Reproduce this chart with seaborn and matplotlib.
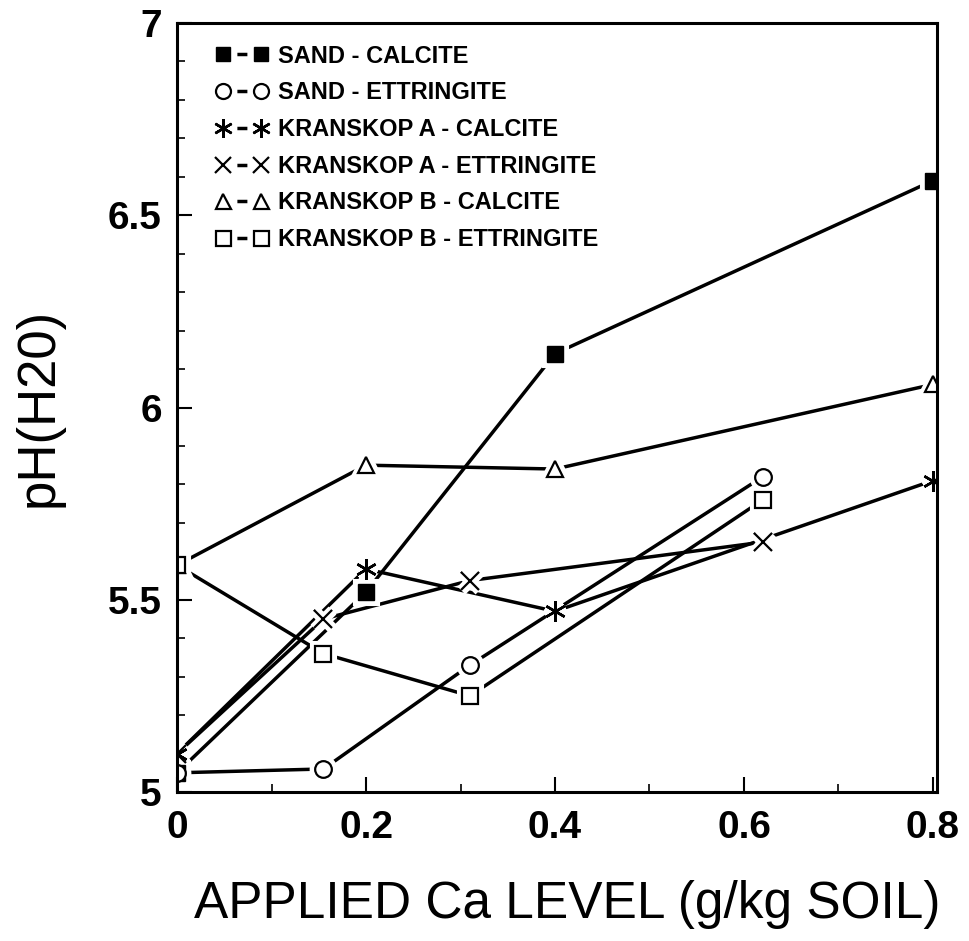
import matplotlib
matplotlib.use("Agg")
import matplotlib.pyplot as plt
import seaborn as sns
import pandas as pd
from matplotlib.ticker import MultipleLocator

sns.set_theme(style="white")
plt.rcParams['font.family'] = ['Liberation Sans', 'DejaVu Sans']
plt.rcParams['text.color'] = 'black'
plt.rcParams['axes.labelcolor'] = 'black'
plt.rcParams['xtick.color'] = 'black'
plt.rcParams['ytick.color'] = 'black'

# ---- data ----
sand_cal_x = [0, 0.2, 0.4, 0.8]
sand_cal_y = [5.05, 5.52, 6.14, 6.59]

sand_ett_x = [0, 0.155, 0.31, 0.62]
sand_ett_y = [5.05, 5.06, 5.33, 5.82]

ka_cal_x = [0, 0.2, 0.4, 0.8]
ka_cal_y = [5.10, 5.58, 5.47, 5.81]

ka_ett_x = [0, 0.155, 0.31, 0.62]
ka_ett_y = [5.10, 5.45, 5.55, 5.65]

kb_cal_x = [0, 0.2, 0.4, 0.8]
kb_cal_y = [5.59, 5.85, 5.84, 6.06]

kb_ett_x = [0, 0.155, 0.31, 0.62]
kb_ett_y = [5.59, 5.36, 5.25, 5.76]

labels = ["SAND - CALCITE", "SAND - ETTRINGITE", "KRANSKOP A - CALCITE",
          "KRANSKOP A - ETTRINGITE", "KRANSKOP B - CALCITE", "KRANSKOP B - ETTRINGITE"]
x_ticks = [0, 0.2, 0.4, 0.6, 0.8]
x_ticklabels = ["0", "0.2", "0.4", "0.6", "0.8"]
y_ticks = [5, 5.5, 6, 6.5, 7]
y_ticklabels = ["5", "5.5", "6", "6.5", "7"]

series = [
    (sand_cal_x, sand_cal_y, dict(marker='s', markersize=11, markerfacecolor='black', markeredgecolor='black', markeredgewidth=1.0)),
    (sand_ett_x, sand_ett_y, dict(marker='o', markersize=12, markerfacecolor='white', markeredgecolor='black', markeredgewidth=1.6)),
    (ka_cal_x, ka_cal_y, dict(marker=(6, 2, 0), markersize=15, markeredgecolor='black', markeredgewidth=1.8)),
    (ka_ett_x, ka_ett_y, dict(marker='x', markersize=13, markeredgecolor='black', markeredgewidth=1.6)),
    (kb_cal_x, kb_cal_y, dict(marker='^', markersize=12, markerfacecolor='white', markeredgecolor='black', markeredgewidth=1.6)),
    (kb_ett_x, kb_ett_y, dict(marker='s', markersize=12, markerfacecolor='white', markeredgecolor='black', markeredgewidth=1.6)),
]
LW = 2.5

fig = plt.figure(figsize=(9.69, 9.41), dpi=100)
ax = fig.add_axes([0.1827, 0.1583, 0.784, 0.8173])

frames = [pd.DataFrame({"x": xs, "y": ys}) for xs, ys, _ in series]

# lines with markers (these carry the legend entries)
for df, (_, _, kw), lab in zip(frames, series, labels):
    sns.lineplot(data=df, x="x", y="y", ax=ax, color='black', linewidth=LW,
                 sort=False, label=lab, legend=False, zorder=2, **kw)
# white halos so lines stop short of markers
for df, (_, _, kw) in zip(frames, series):
    ax.plot(df["x"], df["y"], linestyle='none', marker=kw['marker'],
            markersize=kw['markersize'], markerfacecolor='white',
            markeredgecolor='white', markeredgewidth=8, zorder=3)
# markers on top
for df, (_, _, kw) in zip(frames, series):
    ax.plot(df["x"], df["y"], linestyle='none', color='black', zorder=4, **kw)

ax.set_xlim(0, 0.804)
ax.set_ylim(5, 7)
ax.set_xticks(x_ticks)
ax.set_xticklabels(x_ticklabels)
ax.set_yticks(y_ticks)
ax.set_yticklabels(y_ticklabels)
ax.xaxis.set_minor_locator(MultipleLocator(0.1))
ax.yaxis.set_minor_locator(MultipleLocator(0.1))
ax.tick_params(axis='both', which='major', direction='in', length=11, width=1.5,
               labelsize=28, bottom=True, left=True, top=False, right=False)
ax.tick_params(axis='x', which='major', pad=13)
ax.tick_params(axis='y', which='major', pad=11)
ax.tick_params(axis='both', which='minor', direction='in', length=6, width=1.2,
               bottom=True, left=True, top=False, right=False)
for t in ax.get_xticklabels() + ax.get_yticklabels():
    t.set_fontweight('bold')

for s in ax.spines.values():
    s.set_color('black')
    s.set_linewidth(2.2)
    s.set_zorder(5)

ax.set_xlabel("APPLIED Ca LEVEL (g/kg SOIL)", fontsize=37)
ax.xaxis.set_label_coords(0.513, -0.114)
ax.set_ylabel("pH(H20)", fontsize=38, labelpad=32)

leg = ax.legend(loc='upper left', bbox_to_anchor=(0.039, 0.984), numpoints=2,
                handlelength=2.2, handletextpad=0.42, labelspacing=0.58,
                frameon=False, borderaxespad=0.0, borderpad=0.4,
                prop={'weight': 'bold', 'size': 17}, markerscale=0.9)
# short dash between the two legend markers
for h in leg.legend_handles:
    h.set_linestyle((27.2 / LW, (7.2 / LW, 30.0 / LW)))

fig.savefig("out.png", dpi=100)
